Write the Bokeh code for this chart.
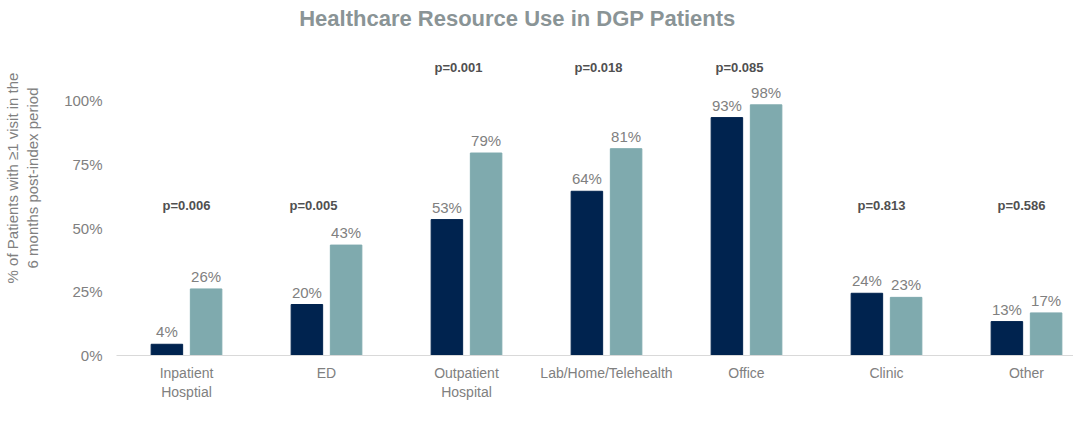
from bokeh.plotting import figure
from bokeh.models import ColumnDataSource, Range1d, FixedTicker, Legend, LegendItem
from bokeh.core.properties import value
from bokeh.transform import dodge
from bokeh.embed import file_html
from bokeh.resources import INLINE

categories = ["Inpatient\nHosptial", "ED", "Outpatient\nHospital", "Lab/Home/Telehealth",
              "Office", "Clinic", "Other"]
nmcp = [4.4, 20.0, 53.3, 64.4, 93.3, 24.4, 13.3]
omcp = [26.1, 43.3, 79.4, 81.1, 98.3, 22.8, 16.7]
nmcp_labels = ["4%", "20%", "53%", "64%", "93%", "24%", "13%"]
omcp_labels = ["26%", "43%", "79%", "81%", "98%", "23%", "17%"]
p_values = ["p=0.006", "p=0.005", "p=0.001", "p=0.018", "p=0.085", "p=0.813", "p=0.586"]
y_ticks = [0, 25, 50, 75, 100]
tick_labels = ["0%", "25%", "50%", "75%", "100%"]
series_names = ["NMCP (n=45)", "OMCP (n=180)"]
chart_title = "Healthcare Resource Use in DGP Patients"

# layout constants (not data)
p_level = [59, 59, 113, 113, 113, 59, 59]
p_dx = [0, -13, -8, -8, -7, -5, -5]
PX_PER_UNIT = 2.55
FRAME_H = 355
FRAME_W = 957
BAND_PX = 140

NAVY = "#00234f"
TEAL = "#7faaae"
GRAY = "#808080"
FONT = "Liberation Sans"

xs = list(range(len(categories)))
src = ColumnDataSource(dict(x=xs, nmcp=nmcp, omcp=omcp, nl=nmcp_labels, ol=omcp_labels,
                            pv=p_values, py=p_level, pdx=p_dx))

p = figure(frame_width=FRAME_W, frame_height=FRAME_H, output_backend="svg",
           toolbar_location=None,
           x_range=Range1d(-0.5, -0.5 + FRAME_W / BAND_PX),
           y_range=Range1d(0, FRAME_H / PX_PER_UNIT),
           min_border_left=113, min_border_right=0, min_border_top=0, min_border_bottom=77)
p.outline_line_color = None
p.grid.grid_line_color = None
p.background_fill_color = "white"
p.border_fill_color = "white"

r1 = p.vbar(x=dodge("x", -0.14, range=p.x_range), top="nmcp", width=0.225, source=src,
            fill_color=NAVY, line_color=NAVY)
r2 = p.vbar(x=dodge("x", 0.14, range=p.x_range), top="omcp", width=0.225, source=src,
            fill_color=TEAL, line_color=TEAL)

p.text(x=dodge("x", -0.14, range=p.x_range), y="nmcp", text="nl", source=src,
       text_align="center", text_baseline="bottom", y_offset=-4,
       text_font_size="15px", text_color=GRAY, text_font=value(FONT))
p.text(x=dodge("x", 0.14, range=p.x_range), y="omcp", text="ol", source=src,
       text_align="center", text_baseline="bottom", y_offset=-4,
       text_font_size="15px", text_color=GRAY, text_font=value(FONT))
p.text(x="x", y="py", text="pv", source=src, x_offset="pdx",
       text_align="center", text_baseline="middle",
       text_font_size="13px", text_font_style="bold", text_color="#505050",
       text_font=value(FONT))

# chart title, drawn at the top of the frame
p.text(x=[2.364], y=[132.2], text=[chart_title], text_align="center",
       text_baseline="middle", text_font_size="22px", text_font_style="bold",
       text_color="#8a9496", text_font=value(FONT))

# axes
p.xaxis.ticker = FixedTicker(ticks=xs)
p.xaxis.major_label_overrides = {i: c for i, c in enumerate(categories)}
p.xaxis.axis_line_color = "#d9d9d9"
p.xaxis.axis_line_width = 1
p.xaxis.major_tick_line_color = None
p.xaxis.minor_tick_line_color = None
p.xaxis.major_label_text_font = FONT
p.xaxis.major_label_text_font_size = "14px"
p.xaxis.major_label_text_color = GRAY
p.xaxis.major_label_standoff = 3

p.yaxis.ticker = FixedTicker(ticks=y_ticks)
p.yaxis.major_label_overrides = {t: l for t, l in zip(y_ticks, tick_labels)}
p.yaxis.axis_line_color = None
p.yaxis.major_tick_line_color = None
p.yaxis.minor_tick_line_color = None
p.yaxis.major_label_text_font = FONT
p.yaxis.major_label_text_font_size = "15px"
p.yaxis.major_label_text_color = GRAY
p.yaxis.major_label_standoff = 8
p.yaxis.axis_label = "% of Patients with \u22651 visit in the\n6 months post-index period"
p.yaxis.axis_label_text_font = FONT
p.yaxis.axis_label_text_font_size = "15px"
p.yaxis.axis_label_text_font_style = "normal"
p.yaxis.axis_label_text_color = GRAY
p.yaxis.axis_label_standoff = 20

legend = Legend(items=[LegendItem(label=series_names[0], renderers=[r1]),
                       LegendItem(label=series_names[1], renderers=[r2])],
                orientation="horizontal", location=(252, 0),
                glyph_width=9, glyph_height=9, label_standoff=3, spacing=18,
                label_text_font=FONT, label_text_font_size="15px",
                label_text_color=GRAY, border_line_color=None, background_fill_alpha=0,
                padding=0, margin=0)
p.add_layout(legend, "below")

open("out.html", "w").write(file_html(p, INLINE))
